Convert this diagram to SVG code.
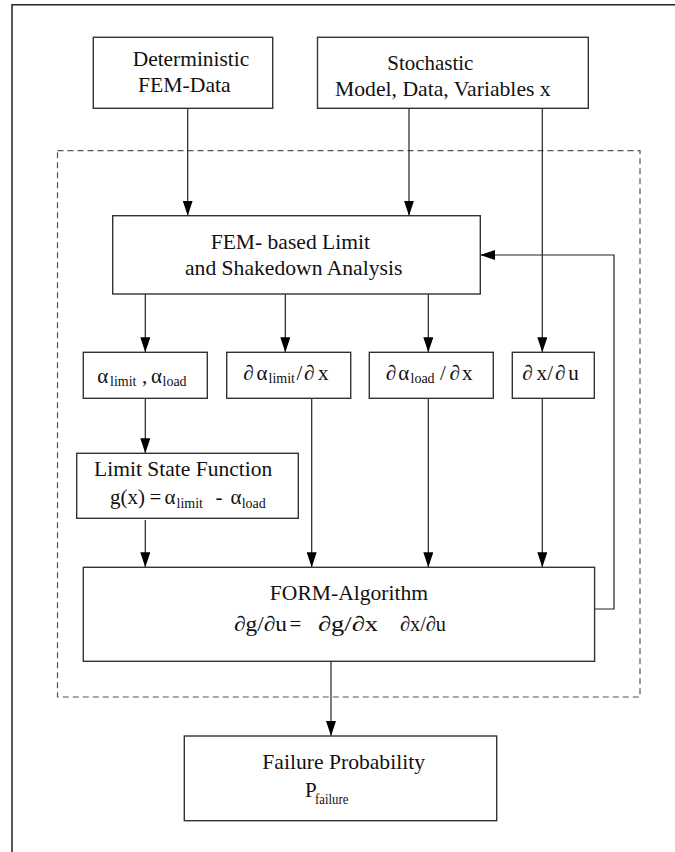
<svg xmlns="http://www.w3.org/2000/svg" width="675" height="852" viewBox="0 0 675 852">
<defs>
<style>
.box{fill:#fff;stroke:#333;stroke-width:1.4}
.t{font-family:"Liberation Serif","Times New Roman",serif;font-size:21px;fill:#111}
.s{font-size:14px}
.ln{fill:none;stroke:#222;stroke-width:1.2}
</style>
<marker id="ah" viewBox="0 0 15 10" refX="15" refY="5" markerWidth="15" markerHeight="10" markerUnits="userSpaceOnUse" orient="auto"><path d="M0,0 L15,5 L0,10 z" fill="#000"/></marker>
</defs>
<rect width="675" height="852" fill="#fff"/>
<path d="M12,852 V4.7 H675" fill="none" stroke="#222" stroke-width="1.5"/>
<rect id="scope" x="57.5" y="150.7" width="582.5" height="546.3" fill="none" stroke="#555" stroke-width="1.2" stroke-dasharray="6 4"/>

<g id="connectors" class="ln">
<path d="M187.7,108.3 V215.7" marker-end="url(#ah)"/>
<path d="M409,108.3 V215.7" marker-end="url(#ah)"/>
<path d="M542.3,108.3 V352.3" marker-end="url(#ah)"/>
<path d="M145.3,294 V352.3" marker-end="url(#ah)"/>
<path d="M285.3,294 V352.3" marker-end="url(#ah)"/>
<path d="M428.3,294 V352.3" marker-end="url(#ah)"/>
<path d="M145.3,398.3 V453.3" marker-end="url(#ah)"/>
<path d="M145.3,520 V567.3" marker-end="url(#ah)"/>
<path d="M311.7,398.3 V567.3" marker-end="url(#ah)"/>
<path d="M428.3,398.3 V567.3" marker-end="url(#ah)"/>
<path d="M542.3,398.3 V567.3" marker-end="url(#ah)"/>
<path d="M594.6,609 H614 V255 H480.3" marker-end="url(#ah)"/>
<path d="M331,661.3 V736" marker-end="url(#ah)"/>
</g>

<g id="deterministic">
<rect class="box" x="93.3" y="37.3" width="179.4" height="71"/>
<text class="t" x="132.7" y="65.7" textLength="116.6" lengthAdjust="spacingAndGlyphs">Deterministic</text>
<text class="t" x="138" y="91.7" textLength="92.7" lengthAdjust="spacingAndGlyphs">FEM-Data</text>
</g>

<g id="stochastic">
<rect class="box" x="317.5" y="37.3" width="270.8" height="71"/>
<text class="t" x="387.3" y="70" textLength="86" lengthAdjust="spacingAndGlyphs">Stochastic</text>
<text class="t" x="335" y="95.5" textLength="215.7" lengthAdjust="spacingAndGlyphs">Model, Data, Variables x</text>
</g>

<g id="fem">
<rect class="box" x="112.7" y="215.7" width="367.6" height="78.3"/>
<text class="t" x="210.7" y="249.3" textLength="159.3" lengthAdjust="spacingAndGlyphs">FEM- based Limit</text>
<text class="t" x="185" y="275" textLength="217.3" lengthAdjust="spacingAndGlyphs">and Shakedown Analysis</text>
</g>

<g id="alphas">
<rect class="box" x="83.3" y="352.3" width="124" height="46"/>
<text class="t"><tspan x="97.3" y="383">α</tspan><tspan class="s" x="110" y="386">limit</tspan><tspan x="142" y="383">,</tspan><tspan x="151" y="383">α</tspan><tspan class="s" x="162.5" y="386">load</tspan></text>
</g>

<g id="dalimit">
<rect class="box" x="226.7" y="352.3" width="124" height="46"/>
<text class="t"><tspan x="243.3" y="379.5">∂</tspan><tspan x="256.5" y="379.5">α</tspan><tspan class="s" x="268.5" y="383">limit</tspan><tspan x="296.5" y="379.5">/</tspan><tspan x="304" y="379.5">∂</tspan><tspan x="318" y="379.5">x</tspan></text>
</g>

<g id="daload">
<rect class="box" x="369.3" y="352.3" width="124" height="46"/>
<text class="t"><tspan x="385.7" y="379.5">∂</tspan><tspan x="398.3" y="379.5">α</tspan><tspan class="s" x="410.5" y="383">load</tspan><tspan x="440" y="379.5">/</tspan><tspan x="449.5" y="379.5">∂</tspan><tspan x="462" y="379.5">x</tspan></text>
</g>

<g id="dxdu">
<rect class="box" x="512.3" y="352.3" width="82" height="46"/>
<text class="t"><tspan x="522.3" y="379.5">∂</tspan><tspan x="536.5" y="379.5">x</tspan><tspan x="547.3" y="379.5">/</tspan><tspan x="555" y="379.5">∂</tspan><tspan x="568.3" y="379.5">u</tspan></text>
</g>

<g id="limitstate">
<rect class="box" x="76.7" y="453.3" width="221.6" height="65"/>
<text class="t" x="94" y="475.7" textLength="178.3" lengthAdjust="spacingAndGlyphs">Limit State Function</text>
<text class="t"><tspan x="110" y="504">g(x)</tspan><tspan x="149.5" y="504">=</tspan><tspan x="164.5" y="504">α</tspan><tspan class="s" x="176.5" y="508">limit</tspan><tspan x="215.5" y="504">-</tspan><tspan x="230.5" y="504">α</tspan><tspan class="s" x="241.7" y="508">load</tspan></text>
</g>

<g id="form">
<rect class="box" x="83.3" y="567.3" width="511.3" height="94"/>
<text class="t" x="269.8" y="600" textLength="158.3" lengthAdjust="spacingAndGlyphs">FORM-Algorithm</text>
<text class="t"><tspan x="234" y="631" textLength="53" lengthAdjust="spacingAndGlyphs">∂g/∂u</tspan><tspan x="289.5" y="631">=</tspan><tspan x="318" y="631" textLength="60" lengthAdjust="spacingAndGlyphs">∂g/∂x</tspan><tspan x="400" y="631" textLength="46" lengthAdjust="spacingAndGlyphs">∂x/∂u</tspan></text>
</g>

<g id="failure">
<rect class="box" x="184.3" y="736" width="312.4" height="84.7"/>
<text class="t" x="262.3" y="769.3" textLength="162.7" lengthAdjust="spacingAndGlyphs">Failure Probability</text>
<text class="t"><tspan x="305" y="797.3">P</tspan><tspan class="s" x="315" y="804" textLength="33.3" lengthAdjust="spacingAndGlyphs">failure</tspan></text>
</g>
</svg>
